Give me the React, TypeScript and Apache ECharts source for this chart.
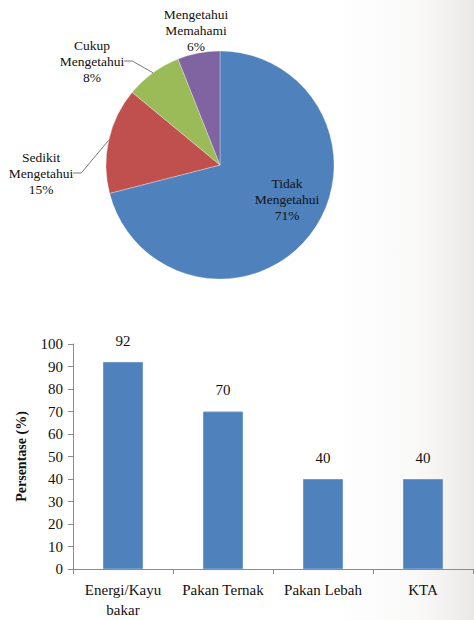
import React, { useEffect, useRef } from "react";
import * as echarts from "echarts";

const pieNames = ["Tidak\nMengetahui", "Sedikit\nMengetahui", "Cukup\nMengetahui", "Mengetahui\nMemahami"];
const pieValues = [71, 15, 8, 6];
const pieColors = ["#4F81BD", "#C0504D", "#9BBB59", "#8064A2"];

const barCategories = ["Energi/Kayu\nbakar", "Pakan Ternak", "Pakan Lebah", "KTA"];
const barValues = [92, 70, 40, 40];
const yTicks = { min: 0, max: 100, interval: 10 };

const FONT = "Liberation Serif";

// label anchor positions (text block centres) for the pie labels
const pieLabelPos = [
  { x: 287, y: 199 },
  { x: 41, y: 173 },
  { x: 92, y: 61 },
  { x: 196, y: 30 },
];

export default function App() {
  const ref = useRef<HTMLDivElement>(null);
  useEffect(() => {
    document.body.style.margin = "0";
    const chart = echarts.init(ref.current!, undefined, { renderer: "svg" });
    chart.setOption({
      animation: false,
      backgroundColor: "#ffffff",
      textStyle: { fontFamily: FONT },
      graphic: [
        {
          type: "rect",
          z: -10,
          silent: true,
          shape: { x: 330, y: 0, width: 144, height: 620 },
          style: {
            fill: new echarts.graphic.LinearGradient(0, 0, 1, 0, [
              { offset: 0, color: "rgba(240,240,240,0)" },
              { offset: 0.6, color: "rgba(240,238,236,0.35)" },
              { offset: 1, color: "rgba(228,226,224,0.8)" },
            ]),
          },
        },
      ],
      grid: { left: 73, top: 344, width: 400, height: 228 },
      xAxis: {
        type: "category",
        data: barCategories,
        axisLine: { lineStyle: { color: "#8c8c8c", width: 1 } },
        axisTick: { show: true, length: 5, lineStyle: { color: "#8c8c8c" } },
        axisLabel: {
          color: "#111",
          fontFamily: FONT,
          fontSize: 15,
          lineHeight: 20,
          margin: 11,
          interval: 0,
        },
      },
      yAxis: {
        type: "value",
        min: yTicks.min,
        max: yTicks.max,
        interval: yTicks.interval,
        name: "Persentase (%)",
        nameLocation: "middle",
        nameGap: 45,
        nameTextStyle: { color: "#111", fontFamily: FONT, fontSize: 14, fontWeight: "bold" },
        splitLine: { show: false },
        axisLine: { show: true, lineStyle: { color: "#8c8c8c", width: 1 } },
        axisTick: { show: true, length: 5, lineStyle: { color: "#8c8c8c" } },
        axisLabel: { color: "#111", fontFamily: FONT, fontSize: 15, margin: 10 },
      },
      series: [
        {
          type: "pie",
          center: [220, 165],
          radius: 114,
          startAngle: 90,
          clockwise: true,
          color: pieColors,
          itemStyle: { borderColor: "rgba(255,255,255,0.6)", borderWidth: 0.5 },
          data: pieNames.map((n, i) => ({
            name: n,
            value: pieValues[i],
            labelLine: { show: i === 1 || i === 2 },
          })),
          label: {
            show: true,
            position: "outside",
            formatter: (p: any) => `${p.name}\n${Math.round(p.percent)}%`,
            color: "#111",
            fontFamily: FONT,
            fontSize: 13.5,
            lineHeight: 16,
            align: "center",
          },
          labelLine: { show: true, length: 10, length2: 8, lineStyle: { color: "#777", width: 1 } },
          labelLayout: (params: any) => {
            const p = pieLabelPos[params.dataIndex];
            return { x: p.x, y: p.y, align: "center", verticalAlign: "middle" };
          },
        },
        {
          type: "bar",
          data: barValues,
          barWidth: "40%",
          itemStyle: { color: "#4F81BD", borderColor: "#6f98cc", borderWidth: 1 },
          label: {
            show: true,
            position: "top",
            distance: 14,
            color: "#111",
            fontFamily: FONT,
            fontSize: 15,
          },
        },
      ],
    });
    return () => chart.dispose();
  }, []);
  return <div ref={ref} style={{ width: 474, height: 620 }} />;
}
